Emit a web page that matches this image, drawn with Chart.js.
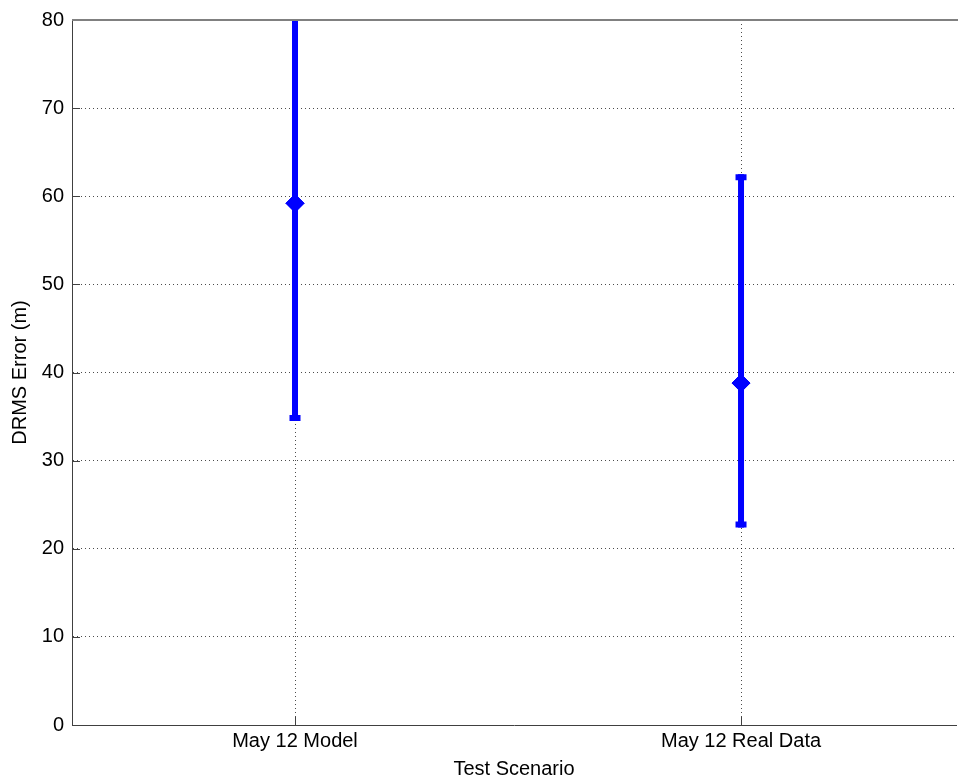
<!DOCTYPE html>
<html>
<head>
<meta charset="utf-8">
<title>DRMS Error</title>
<script src="https://cdn.jsdelivr.net/npm/chart.js@4.4.1/dist/chart.umd.min.js"></script>
<style>
    body { margin: 0; background: #ffffff; overflow: hidden; }
    #grafico { display: block; }
</style>
</head>
<body>
<canvas id="grafico" width="966" height="782"></canvas>
<script>
// valores
const categorias = ['May 12 Model', 'May 12 Real Data'];
const posicoes = [1, 2];
const erroMedio = [59.2, 38.8];
const erroInferior = [34.5, 22.4];
const erroSuperior = [84, 62.5];
const ticksY = [0, 10, 20, 30, 40, 50, 60, 70, 80];

const azul = '#0000ff';
const fonte = 'Liberation Sans, Arial, sans-serif';

// barras de erro + moldura estilo MATLAB
const pluginBarras = {
    id: 'barrasErro',
    afterDatasetsDraw(chart) {
        const { ctx, chartArea, scales } = chart;
        const x = scales.x, y = scales.y;

        ctx.save();
        ctx.beginPath();
        ctx.rect(chartArea.left, chartArea.top, chartArea.right - chartArea.left, chartArea.bottom - chartArea.top);
        ctx.clip();
        ctx.strokeStyle = azul;
        ctx.lineWidth = 6;
        ctx.lineCap = 'butt';
        posicoes.forEach((p, i) => {
            const px = x.getPixelForValue(p);
            const yBaixo = y.getPixelForValue(erroInferior[i]);
            const yAlto = y.getPixelForValue(erroSuperior[i]);
            ctx.beginPath();
            ctx.moveTo(px, yBaixo);
            ctx.lineTo(px, yAlto);
            ctx.stroke();
            // tampas
            ctx.beginPath();
            ctx.moveTo(px - 5.5, yBaixo - 3);
            ctx.lineTo(px + 5.5, yBaixo - 3);
            ctx.moveTo(px - 5.5, yAlto + 3);
            ctx.lineTo(px + 5.5, yAlto + 3);
            ctx.stroke();
        });
        ctx.restore();

        // marcadores por cima das barras
        const meta = chart.getDatasetMeta(0);
        meta.data.forEach(pt => pt.draw(ctx, chartArea));

        // risquinhos internos dos eixos
        ctx.save();
        ctx.strokeStyle = '#404040';
        ctx.lineWidth = 1;
        ticksY.forEach(v => {
            const py = Math.round(y.getPixelForValue(v)) + 0.5;
            ctx.beginPath();
            ctx.moveTo(chartArea.left, py);
            ctx.lineTo(chartArea.left + 8, py);
            ctx.stroke();
        });
        posicoes.forEach(p => {
            const px = Math.round(x.getPixelForValue(p)) + 0.5;
            ctx.beginPath();
            ctx.moveTo(px, chartArea.bottom);
            ctx.lineTo(px, chartArea.bottom - 8);
            ctx.stroke();
        });
        // borda de cima
        ctx.strokeStyle = '#808080';
        ctx.lineWidth = 2;
        ctx.beginPath();
        ctx.moveTo(chartArea.left, chartArea.top);
        ctx.lineTo(chartArea.right + 10, chartArea.top);
        ctx.stroke();
        ctx.restore();
    }
};

const ctx = document.getElementById('grafico').getContext('2d');

const grafico = new Chart(ctx, {
    type: 'scatter',
    data: {
        datasets: [
            {
                label: 'DRMS',
                data: posicoes.map((p, i) => ({ x: p, y: erroMedio[i] })),
                backgroundColor: azul,
                borderColor: azul,
                borderWidth: 1,
                pointStyle: 'rectRot',
                pointRadius: 9,
                pointHoverRadius: 9
            }
        ]
    },
    plugins: [pluginBarras],
    options: {
        responsive: false,
        animation: false,
        events: [],
        layout: { padding: { top: 19, right: 0, left: 0, bottom: 0 } },
        plugins: {
            legend: { display: false },
            tooltip: { enabled: false }
        },
        scales: {
            x: {
                type: 'linear',
                min: 0.5,
                max: 2.482,
                afterBuildTicks: (scale) => {
                    scale.ticks = posicoes.map(v => ({ value: v }));
                },
                afterFit: (scale) => { scale.height = 57; },
                ticks: {
                    color: '#000000',
                    font: { family: fonte, size: 20 },
                    padding: 4,
                    maxRotation: 0,
                    autoSkip: false,
                    callback: (v) => {
                        const i = posicoes.indexOf(v);
                        return i >= 0 ? categorias[i] : '';
                    }
                },
                grid: {
                    color: 'rgba(0,0,0,0.7)',
                    drawTicks: false
                },
                border: { display: true, color: '#404040', width: 1, dash: [1, 3] },
                title: {
                    display: true,
                    text: 'Test Scenario',
                    color: '#000000',
                    font: { family: fonte, size: 20 },
                    padding: { top: 0, bottom: 1 }
                }
            },
            y: {
                min: 0,
                max: 80,
                afterBuildTicks: (scale) => {
                    scale.ticks = ticksY.map(v => ({ value: v }));
                },
                afterFit: (scale) => { scale.width = 72; },
                ticks: {
                    color: '#000000',
                    font: { family: fonte, size: 20 },
                    padding: 8
                },
                grid: {
                    color: 'rgba(0,0,0,0.7)',
                    drawTicks: false
                },
                border: { display: true, color: '#404040', width: 1, dash: [1, 3] },
                title: {
                    display: true,
                    text: 'DRMS Error (m)',
                    color: '#000000',
                    font: { family: fonte, size: 20 },
                    padding: { top: 8, bottom: 0 }
                }
            }
        }
    }
});
</script>
</body>
</html>
